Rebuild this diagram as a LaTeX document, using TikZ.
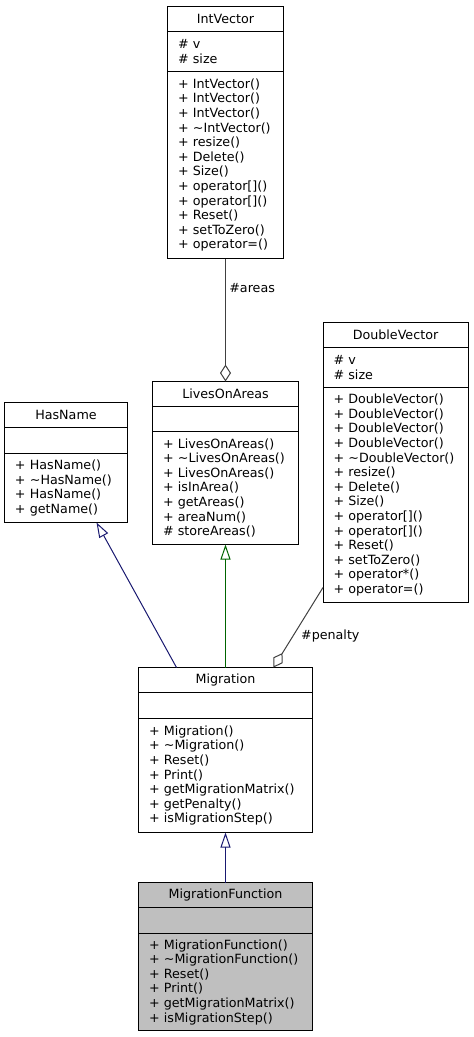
\documentclass[tikz,border=0pt]{standalone}
\usepackage{fontspec}
\setmainfont{DejaVu Sans}
\usetikzlibrary{positioning,arrows.meta}
\definecolor{navyedge}{HTML}{191970}
\definecolor{greenedge}{HTML}{006400}
\definecolor{greyedge}{HTML}{404040}
\definecolor{curfill}{HTML}{BFBFBF}
\begin{document}
\begin{tikzpicture}[x=1pt,y=-1pt,font=\fontsize{12.7}{14.6}\selectfont,
clshead/.style={draw,line width=1pt,minimum width=#1,minimum height=25pt,inner sep=0pt,outer sep=0pt},
clsbody/.style={draw,line width=1pt,text width=#1,align=left,inner xsep=10.5pt,inner ysep=0pt,outer sep=0pt},
inh/.style={line width=1pt,-{Triangle[open,length=15pt,width=10pt]}},
agg/.style={draw=greyedge,line width=1pt,-{Diamond[open,length=17pt,width=11pt]}}]
\useasboundingbox(0,0)rectangle(474,1037);
% IntVector
\node[clshead=116pt,anchor=north](iv)at(225.5,6.5){IntVector};
\node[clsbody=95pt,minimum height=40pt,below=0pt of iv](iv-a){\# v\\\# size};
\node[clsbody=95pt,minimum height=187pt,below=0pt of iv-a](iv-m){+ IntVector()\\+ IntVector()\\+ IntVector()\\+ \textasciitilde IntVector()\\+ resize()\\+ Delete()\\+ Size()\\+ operator[]()\\+ operator[]()\\+ Reset()\\+ setToZero()\\+ operator=()};
% LivesOnAreas
\node[clshead=146pt,anchor=north](loa)at(225.5,381.5){LivesOnAreas};
\node[clsbody=125pt,minimum height=25pt,below=0pt of loa](loa-a){};
\node[clsbody=125pt,minimum height=113pt,below=0pt of loa-a](loa-m){+ LivesOnAreas()\\+ \textasciitilde LivesOnAreas()\\+ LivesOnAreas()\\+ isInArea()\\+ getAreas()\\+ areaNum()\\\# storeAreas()};
% HasName
\node[clshead=123pt,anchor=north](hn)at(66,402.5){HasName};
\node[clsbody=102pt,minimum height=26pt,below=0pt of hn](hn-a){};
\node[clsbody=102pt,minimum height=69pt,below=0pt of hn-a](hn-m){+ HasName()\\+ \textasciitilde HasName()\\+ HasName()\\+ getName()};
% DoubleVector
\node[clshead=145pt,anchor=north](dv)at(395.5,322.5){DoubleVector};
\node[clsbody=124pt,minimum height=40pt,below=0pt of dv](dv-a){\# v\\\# size};
\node[clsbody=124pt,minimum height=215pt,below=0pt of dv-a](dv-m){+ DoubleVector()\\+ DoubleVector()\\+ DoubleVector()\\+ DoubleVector()\\+ \textasciitilde DoubleVector()\\+ resize()\\+ Delete()\\+ Size()\\+ operator[]()\\+ operator[]()\\+ Reset()\\+ setToZero()\\+ operator*()\\+ operator=()};
% Migration
\node[clshead=174pt,anchor=north](mig)at(225.5,667.5){Migration};
\node[clsbody=153pt,minimum height=26pt,below=0pt of mig](mig-a){};
\node[clsbody=153pt,minimum height=114pt,below=0pt of mig-a](mig-m){+ Migration()\\+ \textasciitilde Migration()\\+ Reset()\\+ Print()\\+ getMigrationMatrix()\\+ getPenalty()\\+ isMigrationStep()};
% MigrationFunction
\node[clshead=174pt,fill=curfill,anchor=north](mf)at(225.5,882.5){MigrationFunction};
\node[clsbody=153pt,fill=curfill,minimum height=26pt,below=0pt of mf](mf-a){};
\node[clsbody=153pt,fill=curfill,minimum height=97pt,below=0pt of mf-a](mf-m){+ MigrationFunction()\\+ \textasciitilde MigrationFunction()\\+ Reset()\\+ Print()\\+ getMigrationMatrix()\\+ isMigrationStep()};
% edges
\draw[agg](iv-m.south)--node[pos=0.24,right]{\#areas}(loa.north);
\draw[agg]([yshift=15pt]dv-m.south west)--node[pos=0.6,right=4pt]{\#penalty}([xshift=135pt]mig.north west);
\draw[inh,draw=navyedge]([xshift=38pt]mig.north west)--([xshift=92pt]hn-m.south west);
\draw[inh,draw=greenedge](mig.north)--(loa-m.south);
\draw[inh,draw=navyedge](mf.north)--(mig-m.south);
\end{tikzpicture}
\end{document}
